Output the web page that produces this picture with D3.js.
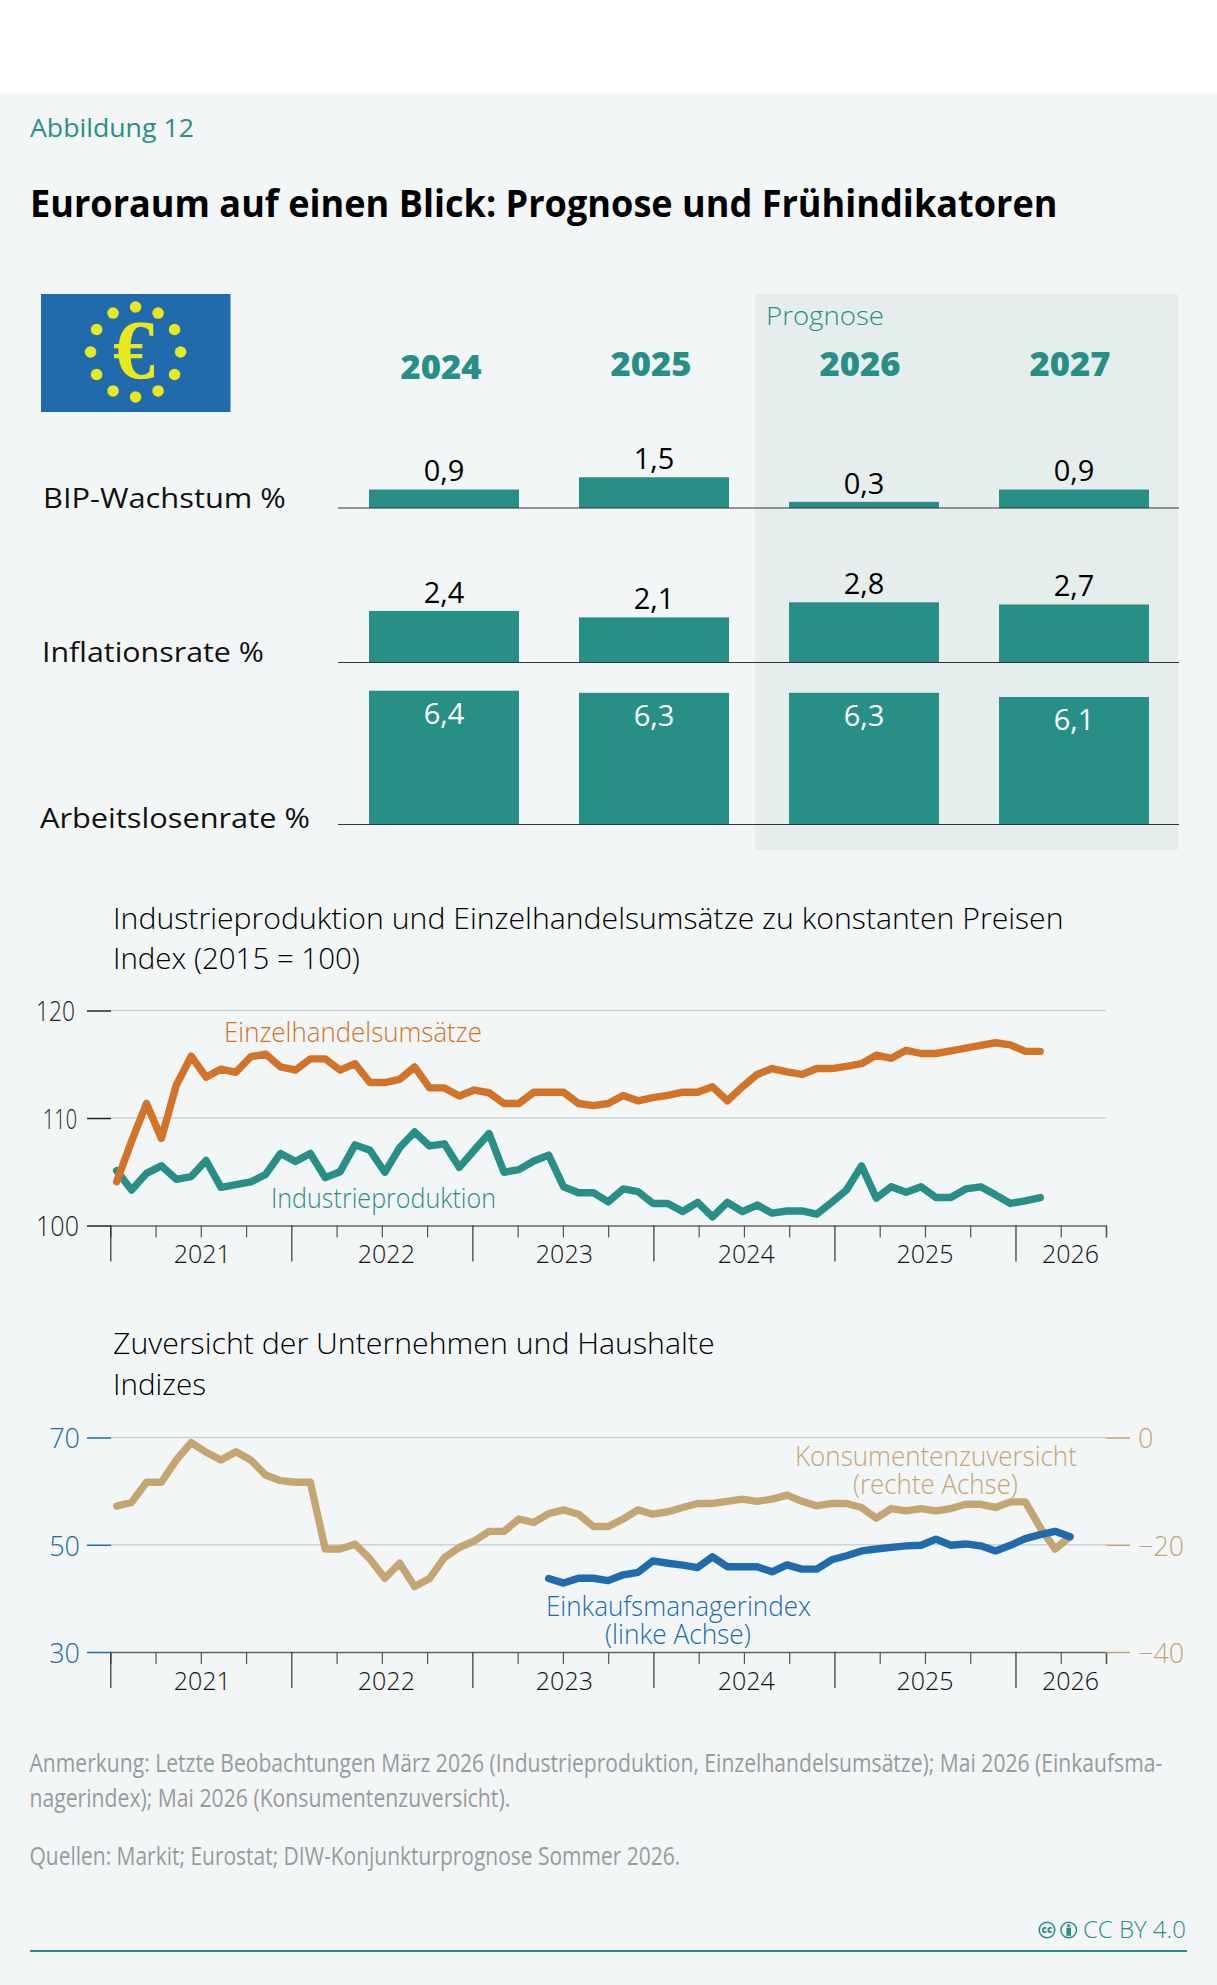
<!DOCTYPE html>
<html lang="de">
<head>
<meta charset="utf-8">
<title>Euroraum auf einen Blick</title>
<script src="https://cdn.jsdelivr.net/npm/d3@7/dist/d3.min.js"></script>
<style>
  html, body { margin: 0; padding: 0; background: #fff; }
  svg { display: block; }
  text { font-family: "Open Sans", "Noto Sans", sans-serif; }
</style>
</head>
<body>
<svg id="chart" width="1217" height="1985"></svg>
<script>
// Forecast table
const forecastYears = ["2024", "2025", "2026", "2027"];
const bipWachstum = [0.9, 1.5, 0.3, 0.9];
const inflationsrate = [2.4, 2.1, 2.8, 2.7];
const arbeitslosenrate = [6.4, 6.3, 6.3, 6.1];

// Monthly series from January 2021
const einzelhandel = [104.07, 107.85, 111.35, 108.1, 113.05, 115.75, 113.8, 114.55, 114.25, 115.7, 115.95,
  114.75, 114.45, 115.5, 115.5, 114.45, 115.05, 113.3, 113.3, 113.6, 114.75, 112.8, 112.8, 112.05, 112.6,
  112.35, 111.35, 111.35, 112.4, 112.4, 112.4, 111.35, 111.15, 111.35, 112.1, 111.6, 111.9, 112.1, 112.4,
  112.4, 112.9, 111.6, 112.9, 114.05, 114.6, 114.3, 114.05, 114.6, 114.6, 114.8, 115.05, 115.85, 115.55,
  116.3, 116.0, 116.0, 116.25, 116.5, 116.75, 117.0, 116.8, 116.2, 116.2];
const industrie = [105.1, 103.3, 104.85, 105.55, 104.3, 104.55, 106.05, 103.55, 103.8, 104.05, 104.75,
  106.7, 105.95, 106.7, 104.45, 105.0, 107.5, 107.0, 104.95, 107.25, 108.7, 107.4, 107.6, 105.4, 107.0,
  108.55, 104.95, 105.2, 106.0, 106.55, 103.6, 103.05, 103.05, 102.2, 103.4, 103.15, 102.05, 102.05, 101.3,
  102.15, 100.8, 102.15, 101.3, 101.9, 101.15, 101.35, 101.35, 101.05, 102.15, 103.3, 105.55, 102.55, 103.6,
  103.1, 103.6, 102.6, 102.6, 103.4, 103.6, 102.85, 102.05, 102.3, 102.6];
const konsumenten = [-12.8, -12.1, -8.35, -8.35, -4.2, -0.95, -2.75, -4.2, -2.65, -4.2, -7.0, -8.05, -8.35,
  -8.35, -20.8, -20.8, -19.9, -22.65, -26.25, -23.45, -27.8, -26.3, -22.4, -20.5, -19.3, -17.5, -17.5, -15.2,
  -15.85, -14.2, -13.5, -14.3, -16.6, -16.6, -15.2, -13.5, -14.3, -13.85, -13.05, -12.3, -12.3, -11.9, -11.5,
  -11.9, -11.5, -10.75, -11.9, -12.75, -12.3, -12.3, -13.05, -15.05, -13.25, -13.7, -13.25, -13.7, -13.25,
  -12.45, -12.45, -13.05, -12.0, -12.0, -16.8, -20.8, -18.5];
// Purchasing managers' index starts in June 2023 (month 29)
const einkaufsStart = 29;
const einkaufsmanager = [43.7, 42.85, 43.75, 43.75, 43.3, 44.4, 44.85, 47.0, 46.55, 46.2, 45.75, 47.75, 45.9,
  45.9, 45.9, 44.95, 46.25, 45.45, 45.45, 47.2, 47.95, 48.85, 49.2, 49.5, 49.8, 49.9, 51.05, 49.9, 50.15, 49.8,
  48.85, 49.9, 51.15, 51.9, 52.5, 51.5];

const axisYears = [["2021", 6.1], ["2022", 18.3], ["2023", 30.1], ["2024", 42.15], ["2025", 54], ["2026", 63.65]];

const TEAL = "#288f86", ORANGE = "#d37327", TAN = "#c4a672", BLUE = "#206bad", INK = "#111";

const svg = d3.select("#chart");

// Narrow or widen a text element horizontally about its anchor so it spans the wanted width
function fitWidth(t, x, width) {
  const natural = t.node().getComputedTextLength();
  t.attr("transform", `translate(${x},0) scale(${width / natural},1) translate(${-x},0)`);
}

// Text helper: y is the vertical centre of the digits/caps, width (optional) fits the run
function label(parent, str, x, y, o = {}) {
  const t = parent.append("text")
    .attr("x", x).attr("y", y).attr("dy", "0.36em")
    .attr("font-size", o.size || 27)
    .attr("font-weight", o.weight || 300)
    .attr("fill", o.fill || INK)
    .attr("text-anchor", o.anchor || "start")
    .text(str);
  if (o.family) t.style("font-family", o.family);
  if (o.width) fitWidth(t, x, o.width);
  return t;
}

// Page background
svg.append("rect").attr("width", 1217).attr("height", 1985).attr("fill", "#fff");
svg.append("rect").attr("y", 93).attr("width", 1217).attr("height", 1892).attr("fill", "#f2f6f7");

// Heading
label(svg, "Abbildung 12", 30, 128, { size: 26, weight: 400, fill: TEAL, width: 164 });
label(svg, "Euroraum auf einen Blick: Prognose und Frühindikatoren", 30, 203, { size: 38, weight: 700, fill: "#000", width: 1028 });

// Forecast shading
svg.append("rect").attr("x", 755).attr("y", 294).attr("width", 423).attr("height", 556).attr("fill", "#e6eeed");
label(svg, "Prognose", 766, 316, { size: 26, fill: TEAL, width: 118 });

// Flag with ring of stars and euro sign
const flag = svg.append("g");
flag.append("rect").attr("x", 41).attr("y", 294).attr("width", 189.5).attr("height", 118).attr("fill", BLUE);
const ringAngles = d3.range(12).map(i => i * Math.PI / 6);
flag.selectAll("circle").data(ringAngles).join("circle")
  .attr("cx", a => 135.6 + 45 * Math.cos(a))
  .attr("cy", a => 352 + 45 * Math.sin(a))
  .attr("r", 5.8).attr("fill", "#e8e81c");
label(flag, "€", 134, 352, { size: 84, weight: 700, fill: "#e8e81c", anchor: "middle", family: '"Liberation Serif", serif' }).attr("dy", "0.32em");

// Year headers
const headerY = [367, 363.5, 363.5, 363.5];
const headerX = [441, 651, 860, 1070];
forecastYears.forEach((yr, i) => label(svg, yr, headerX[i], headerY[i],
  { size: 34, weight: 800, fill: TEAL, anchor: "middle", width: 81 }));

// Bar rows share one band scale; each row has its own unit length
const band = d3.scaleBand().domain(forecastYears).range([369, 1149]).paddingInner(60 / 210).paddingOuter(0);
const fmtDe = v => d3.format(".1f")(v).replace(".", ",");
const rows = [
  { name: "BIP-Wachstum %", values: bipWachstum, unit: 20.5, base: 508, lx: 43, ly: 498, lw: 243 },
  { name: "Inflationsrate %", values: inflationsrate, unit: 21.5, base: 662.5, lx: 42, ly: 652, lw: 222 },
  { name: "Arbeitslosenrate %", values: arbeitslosenrate, unit: 20.9, base: 824.5, lx: 40, ly: 818, lw: 270, inside: true }
];
rows.forEach(row => {
  const g = svg.append("g");
  const length = d3.scaleLinear().domain([0, 1]).range([0, row.unit]);
  label(g, row.name, row.lx, row.ly, { size: 28, weight: 400, fill: "#111", width: row.lw });
  g.selectAll("rect").data(row.values).join("rect")
    .attr("x", (d, i) => band(forecastYears[i]))
    .attr("y", d => row.base - length(d))
    .attr("width", band.bandwidth())
    .attr("height", d => length(d))
    .attr("fill", TEAL);
  g.append("line").attr("x1", 338).attr("x2", 1179).attr("y1", row.base).attr("y2", row.base)
    .attr("stroke", "#333").attr("stroke-width", 1.2);
  row.values.forEach((d, i) => {
    const top = row.base - length(d);
    label(g, fmtDe(d), band(forecastYears[i]) + band.bandwidth() / 2, row.inside ? top + 23 : top - 18.5,
      { size: 29, weight: 400, fill: row.inside ? "#fff" : "#000", anchor: "middle" });
  });
});

// Shared scales of the two line panels
const x = d3.scaleLinear().domain([0, 64]).range([116.7, 1070]);
const monthAxis = d3.scaleLinear().domain([0, 66]).range([110.3, 1106]);
const longTicks = d3.range(0, 61, 12);
const shortTicks = d3.range(0, 67, 3).filter(m => !longTicks.includes(m));

function timeAxis(y) {
  const g = svg.append("g");
  g.append("g").attr("transform", `translate(0,${y})`)
    .call(d3.axisBottom(monthAxis).tickValues(shortTicks).tickSize(12).tickFormat(""))
    .call(s => s.selectAll("line").attr("stroke", "#555").attr("stroke-width", 1.2))
    .call(s => s.select(".domain").attr("stroke", "#666").attr("stroke-width", 1.5));
  g.append("g").attr("transform", `translate(0,${y})`)
    .call(d3.axisBottom(monthAxis).tickValues(longTicks).tickSize(36).tickFormat(""))
    .call(s => s.selectAll("line").attr("stroke", "#333").attr("stroke-width", 1.2))
    .call(s => s.select(".domain").remove());
  axisYears.forEach(([yr, m]) => label(g, yr, monthAxis(m), y + 28.5, { size: 25, anchor: "middle" }));
}

function styleValueAxis(sel, color) {
  sel.select(".domain").remove();
  sel.selectAll("line").attr("stroke", color).attr("stroke-width", 1.5);
  sel.selectAll("text").attr("font-size", 27).attr("font-weight", 300).attr("fill", color)
    .attr("dy", "0.38em")
    .style("font-family", '"Open Sans", sans-serif');
}

function grid(scale, values) {
  svg.append("g").selectAll("line").data(values).join("line")
    .attr("x1", 111).attr("x2", 1106)
    .attr("y1", scale).attr("y2", scale)
    .attr("stroke", "#cdd2d5").attr("stroke-width", 1.6);
}

function drawLine(values, scale, color, offset = 0) {
  const path = d3.line().x((d, i) => x(i + offset)).y(d => scale(d));
  svg.append("path").attr("d", path(values))
    .attr("fill", "none").attr("stroke", color).attr("stroke-width", 7.4)
    .attr("stroke-linecap", "round").attr("stroke-linejoin", "round");
}

// Panel: industrial production and retail sales
label(svg, "Industrieproduktion und Einzelhandelsumsätze zu konstanten Preisen", 113, 918, { size: 30, fill: "#000", width: 951 });
label(svg, "Index (2015 = 100)", 113, 958, { size: 30, fill: "#000", width: 247 });

const yIndex = d3.scaleLinear().domain([100, 120]).range([1225.5, 1010.5]);
grid(yIndex, [110, 120]);
timeAxis(1225.5);
// The numerals of this axis set proportionally: [width, right edge]
const indexTickFit = new Map([[100, [43, 79]], [110, [34, 77]], [120, [39, 75]]]);
svg.append("g").attr("transform", "translate(111,0)")
  .call(d3.axisLeft(yIndex).tickValues([100, 110, 120]).tickSize(24).tickPadding(9))
  .call(s => styleValueAxis(s, "#222"))
  .call(s => s.selectAll(".tick text").each(function (v) {
    const [w, right] = indexTickFit.get(v);
    const localX = right - 111;
    const t = d3.select(this).attr("x", localX);
    fitWidth(t, localX, w);
  }));
drawLine(industrie, yIndex, TEAL);
drawLine(einzelhandel, yIndex, ORANGE);
label(svg, "Einzelhandelsumsätze", 224, 1032, { size: 28, fill: ORANGE, width: 258 });
label(svg, "Industrieproduktion", 271, 1198, { size: 28, fill: TEAL, width: 225 });

// Panel: business and consumer sentiment
label(svg, "Zuversicht der Unternehmen und Haushalte", 113, 1343.5, { size: 30, fill: "#000", width: 602 });
label(svg, "Indizes", 113, 1384, { size: 30, fill: "#000", width: 93 });

const yLeft = d3.scaleLinear().domain([30, 70]).range([1652, 1437.5]);
const yRight = d3.scaleLinear().domain([-40, 0]).range([1652, 1437.5]);
grid(yLeft, [50, 70]);
timeAxis(1652);
svg.append("g").attr("transform", "translate(111,0)")
  .call(d3.axisLeft(yLeft).tickValues([30, 50, 70]).tickSize(24).tickPadding(7))
  .call(s => styleValueAxis(s, BLUE));
svg.append("g").attr("transform", "translate(1106,0)")
  .call(d3.axisRight(yRight).tickValues([-40, -20, 0]).tickSize(24).tickPadding(8))
  .call(s => styleValueAxis(s, TAN));
drawLine(konsumenten, yRight, TAN);
drawLine(einkaufsmanager, yLeft, BLUE, einkaufsStart);
label(svg, "Konsumentenzuversicht", 795, 1456, { size: 28, fill: TAN, width: 282 });
label(svg, "(rechte Achse)", 853, 1484, { size: 28, fill: TAN, width: 165 });
label(svg, "Einkaufsmanagerindex", 546, 1606, { size: 28, fill: BLUE, width: 265 });
label(svg, "(linke Achse)", 605, 1634, { size: 28, fill: BLUE, width: 146 });

// Notes and sources
const GREY = "#989b9d";
label(svg, "Anmerkung: Letzte Beobachtungen März 2026 (Industrieproduktion, Einzelhandelsumsätze); Mai 2026 (Einkaufsma-", 29.5, 1763, { size: 25, weight: 400, fill: GREY, width: 1133 });
label(svg, "nagerindex); Mai 2026 (Konsumentenzuversicht).", 29.5, 1798, { size: 25, weight: 400, fill: GREY, width: 481 });
label(svg, "Quellen: Markit; Eurostat; DIW-Konjunkturprognose Sommer 2026.", 29.5, 1856.5, { size: 25, weight: 400, fill: GREY, width: 651 });

// Licence mark and closing rule
const cc = svg.append("g");
cc.append("circle").attr("cx", 1047).attr("cy", 1930).attr("r", 7.8).attr("fill", "none").attr("stroke", TEAL).attr("stroke-width", 1.5);
label(cc, "cc", 1047, 1929.5, { size: 10, weight: 800, fill: TEAL, anchor: "middle" });
cc.append("circle").attr("cx", 1068.7).attr("cy", 1930).attr("r", 7.8).attr("fill", "none").attr("stroke", TEAL).attr("stroke-width", 1.5);
cc.append("circle").attr("cx", 1068.7).attr("cy", 1925.5).attr("r", 1.6).attr("fill", TEAL);
cc.append("rect").attr("x", 1066.4).attr("y", 1927.6).attr("width", 4.6).attr("height", 8.2).attr("fill", TEAL);
label(cc, "CC BY 4.0", 1083, 1930, { size: 23, weight: 300, fill: TEAL, width: 103 });
svg.append("line").attr("x1", 30).attr("x2", 1187).attr("y1", 1951).attr("y2", 1951).attr("stroke", TEAL).attr("stroke-width", 2);
</script>
</body>
</html>
